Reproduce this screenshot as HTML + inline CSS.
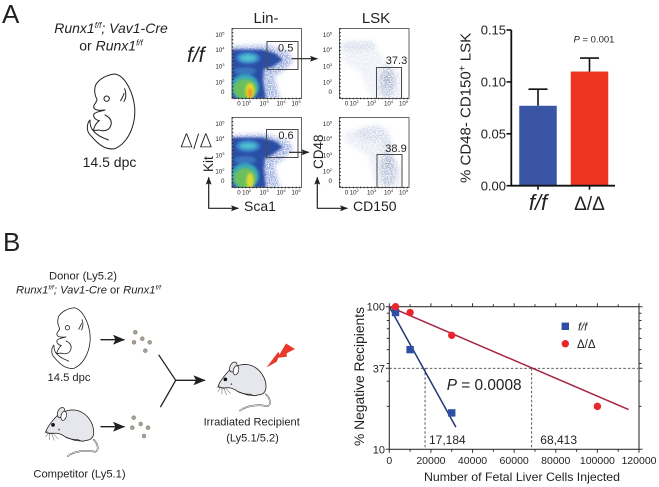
<!DOCTYPE html>
<html lang="en">
<head>
<meta charset="utf-8">
<title>Runx1 fetal liver figure</title>
<style>
html,body{margin:0;padding:0;background:#fff;width:659px;height:487px;overflow:hidden}
svg{display:block}
text{font-family:"Liberation Sans",Arial,sans-serif;fill:#231f20}
.ln{fill:none;stroke:#231f20;stroke-linecap:round;stroke-linejoin:round}
</style>
</head>
<body>
<svg id="fig" width="659" height="487" viewBox="0 0 659 487" xmlns="http://www.w3.org/2000/svg">
<defs>
  <filter id="b1" x="-30%" y="-30%" width="160%" height="160%"><feGaussianBlur stdDeviation="1.2"/></filter>
  <filter id="b2" x="-30%" y="-30%" width="160%" height="160%"><feGaussianBlur stdDeviation="2.4"/></filter>
  <filter id="speck" x="-20%" y="-20%" width="140%" height="140%">
    <feGaussianBlur stdDeviation="2.2" result="soft"/>
    <feTurbulence type="fractalNoise" baseFrequency="0.85" numOctaves="2" seed="4" result="noise"/>
    <feColorMatrix in="noise" type="matrix" values="0 0 0 0 0  0 0 0 0 0  0 0 0 0 0  0 0 0 3.4 -1.1" result="mask"/>
    <feComposite in="soft" in2="mask" operator="in"/>
  </filter>
  <clipPath id="c1"><rect x="232" y="28.5" width="69.5" height="70"/></clipPath>
  <clipPath id="c2"><rect x="339.5" y="28.5" width="69.5" height="70"/></clipPath>
  <clipPath id="c3"><rect x="232" y="117.5" width="69.5" height="70"/></clipPath>
  <clipPath id="c4"><rect x="339.5" y="117.5" width="69.5" height="70"/></clipPath>
  <marker id="ah" markerWidth="8" markerHeight="6" refX="7" refY="3" orient="auto-start-reverse" markerUnits="userSpaceOnUse"><path d="M0 0L8 3L0 6L1.5 3Z" fill="#231f20"/></marker>
  <marker id="ahb" markerWidth="12" markerHeight="10" refX="11" refY="5" orient="auto" markerUnits="userSpaceOnUse"><path d="M0 0L12 5L0 10L2.5 5Z" fill="#231f20"/></marker>
  <g id="embryo-shape" fill="none" stroke="#231f20" stroke-width="3" stroke-linecap="round" stroke-linejoin="round">
    <path d="M345 222C378 228 400 282 404 322C408 372 386 428 345 446C312 452 288 426 268 402C258 388 262 368 270 360C270 372 272 385 280 392C284 378 288 368 298 362C286 360 278 350 282 342C290 334 305 334 315 330C300 332 284 332 281 322C280 312 292 306 291 298C284 285 282 270 287 255C298 236 322 224 345 222Z"/>
    <circle cx="320" cy="296" r="8"/>
    <path d="M362 302C368 290 372 284 372 280M372 304C380 292 378 275 374 266"/>
    <path d="M315 345C330 352 338 362 332 378C328 388 318 394 305 392C295 388 285 392 280 392M280 392C292 408 312 414 325 420"/>
  </g>
  <g id="mouse-shape">
    <path d="M168 148C180 160 186 178 172 184C150 178 110 180 90 197" fill="none" stroke="#231f20" stroke-width="4.4" stroke-linecap="round"/>
    <path d="M168 148C180 160 186 178 172 184C150 178 110 180 90 197" fill="none" stroke="#fff" stroke-width="2.2" stroke-linecap="round"/>
    <path d="M24 124C30 108 46 88 62 72C80 60 105 54 125 62C150 72 168 98 168 125C168 140 160 150 142 150C135 154 128 152 122 148C108 148 95 146 84 140C76 134 66 128 52 128C42 130 30 130 24 124Z" fill="#e6e7ec" stroke="#231f20" stroke-width="2.4" stroke-linejoin="round"/>
    <ellipse cx="70" cy="66" rx="10" ry="16" transform="rotate(25 70 66)" fill="#e6e7ec" stroke="#231f20" stroke-width="2.2"/>
    <ellipse cx="78" cy="76" rx="8" ry="14" transform="rotate(15 78 76)" fill="#fff" stroke="#231f20" stroke-width="2.2"/>
    <circle cx="46" cy="103" r="5.5" fill="#111"/>
    <path d="M64 114l3 5h-6z" fill="#231f20"/>
    <path d="M30 122L20 128M32 125L24 140M36 126L36 148M40 126L50 150M44 126L62 146" stroke="#231f20" stroke-width="1.2" fill="none"/>
    <path d="M84 140L112 150L135 152" stroke="#231f20" stroke-width="2.4" fill="none"/>
  </g>
</defs>

<text x="2" y="23" font-size="26">A</text>
<text x="3" y="251" font-size="26">B</text>

<g>
  <text x="111" y="33" font-size="14" text-anchor="middle" font-style="italic">Runx1<tspan font-size="8" dy="-5">f/f</tspan><tspan dy="5">; Vav1-Cre</tspan></text>
  <text x="111" y="50.5" font-size="14" text-anchor="middle">or <tspan font-style="italic">Runx1</tspan><tspan font-size="8" dy="-5" font-style="italic">f/f</tspan></text>
</g>
<use href="#embryo-shape" transform="scale(.3333)"/>
<text x="109.5" y="167" font-size="14" text-anchor="middle">14.5 dpc</text>

<text x="266" y="23" font-size="15" text-anchor="middle">Lin-</text>
<text x="376" y="23" font-size="15" text-anchor="middle">LSK</text>
<text x="187" y="62" font-size="21" font-style="italic">f/f</text>
<text x="180" y="147" font-size="19" style="font-family:'DejaVu Sans',sans-serif;font-weight:200">Δ/Δ</text>

<!-- density plots -->
<g clip-path="url(#c1)">
  <path d="M232 46L268 45L290 53L293 62L282 72L274 76L280 98.5L232 98.5Z" fill="#8ea2dc" filter="url(#speck)"/>
  <path d="M231 49.5L262 49.5L275 53L283 60L272 67L264 69L263 80L266 99L231 99Z" fill="#2a4ea6" filter="url(#b1)"/>
  <ellipse cx="245" cy="71" rx="11" ry="4" fill="#3a74bc" filter="url(#b1)"/>
  <ellipse cx="248" cy="58" rx="12" ry="6" fill="#3a88cc" filter="url(#b1)"/>
  <ellipse cx="248" cy="58" rx="8" ry="3.5" fill="#4fc0cc" filter="url(#b1)"/>
  <ellipse cx="245" cy="87" rx="14" ry="13" fill="#38a8bc" filter="url(#b1)"/>
  <ellipse cx="245" cy="89" rx="11.5" ry="10" fill="#6cc05c" filter="url(#b1)"/>
  <ellipse cx="250" cy="91" rx="4.5" ry="8" fill="#e6d92c" filter="url(#b1)"/>
  <ellipse cx="250" cy="93" rx="2.2" ry="5" fill="#f1902a" filter="url(#b1)"/>
</g>
<g clip-path="url(#c3)">
  <path d="M232 135L268 134L290 142L293 150L282 160L274 165L280 187.5L232 187.5Z" fill="#8ea2dc" filter="url(#speck)"/>
  <path d="M231 137.5L262 137.5L275 141L283 147L272 155L265 158L264 169L266 188L231 188Z" fill="#2a4ea6" filter="url(#b1)"/>
  <ellipse cx="245" cy="160" rx="11" ry="4" fill="#3a74bc" filter="url(#b1)"/>
  <ellipse cx="248" cy="146" rx="12" ry="6" fill="#3a88cc" filter="url(#b1)"/>
  <ellipse cx="248" cy="146" rx="8" ry="3" fill="#4fc0cc" filter="url(#b1)"/>
  <ellipse cx="245" cy="176" rx="14" ry="13" fill="#38a8bc" filter="url(#b1)"/>
  <ellipse cx="245" cy="178" rx="11" ry="10" fill="#6cc05c" filter="url(#b1)"/>
  <ellipse cx="250" cy="181" rx="3.6" ry="8" fill="#dcdc38" filter="url(#b1)"/>
</g>
<g clip-path="url(#c2)">
  <g filter="url(#speck)" opacity=".55">
    <path d="M342 42L372 40L384 60L402 72L403 98L372 98L360 72L342 60Z" fill="#d4dbec"/>
    <ellipse cx="358" cy="46" rx="18" ry="5" fill="#a7b5d6"/>
    <ellipse cx="387" cy="82" rx="9" ry="16" fill="#7286b6"/>
    <ellipse cx="388" cy="79" rx="4" ry="7" fill="#3f5590"/>
  </g>
</g>
<g clip-path="url(#c4)">
  <g filter="url(#speck)" opacity=".55">
    <path d="M345 132L376 124L388 130L392 155L402 170L400 187L376 187L368 155L345 142Z" fill="#ccd4e8"/>
    <ellipse cx="372" cy="134" rx="16" ry="7" fill="#a0afd2"/>
    <ellipse cx="386" cy="146" rx="6" ry="13" fill="#a8b6d6"/>
    <ellipse cx="388" cy="170" rx="9" ry="17" fill="#7688b8"/>
    <ellipse cx="388" cy="163" rx="4.5" ry="7" fill="#4e6398"/>
  </g>
</g>
<g id="flow-frames"></g>

<g fill="none" stroke="#4a4a4a" stroke-width="1">
  <rect x="267" y="41.5" width="31" height="28"/>
  <rect x="376.5" y="67.5" width="25" height="31"/>
  <rect x="266.5" y="129.5" width="31.5" height="28"/>
  <rect x="377" y="154.5" width="25" height="33"/>
</g>
<text x="285.7" y="51.5" font-size="11" text-anchor="middle">0.5</text>
<text x="396.5" y="64" font-size="11" text-anchor="middle">37.3</text>
<text x="286" y="139" font-size="11" text-anchor="middle">0.6</text>
<text x="396" y="152" font-size="11" text-anchor="middle">38.9</text>
<path class="ln" stroke-width="1.1" d="M292 58.7H317" marker-end="url(#ah)"/>
<path class="ln" stroke-width="1.1" d="M289.5 152.3H308.5" marker-end="url(#ah)"/>

<text transform="translate(213 172) rotate(-90)" font-size="13.5">Kit</text>
<text transform="translate(323 169) rotate(-90)" font-size="13.5">CD48</text>
<text x="244" y="211" font-size="14">Sca1</text>
<text x="353" y="211" font-size="14">CD150</text>
<path class="ln" stroke-width="1.2" d="M208.7 177.7V208.3H238" marker-end="url(#ah)" marker-start="url(#ah)"/>
<path class="ln" stroke-width="1.2" d="M317.3 177.7V208.3H347" marker-end="url(#ah)" marker-start="url(#ah)"/>

<g id="bar-chart"></g>

<!-- panel B schematic -->
<g>
  <text x="83" y="279.5" font-size="11.2" text-anchor="middle">Donor (Ly5.2)</text>
  <text x="88.5" y="293.5" font-size="11.2" text-anchor="middle" font-style="italic">Runx1<tspan font-size="6.6" dy="-4">f/f</tspan><tspan dy="4">; Vav1-Cre </tspan><tspan font-style="normal">or </tspan>Runx1<tspan font-size="6.6" dy="-4">f/f</tspan></text>
</g>
<use href="#embryo-shape" transform="translate(-19 247.8) scale(.27)"/>
<text x="69" y="381" font-size="11.2" text-anchor="middle">14.5 dpc</text>
<path class="ln" stroke-width="1.3" d="M101 339.7H124" marker-end="url(#ahb)"/>
<path class="ln" stroke-width="1.3" d="M101 426.7H124" marker-end="url(#ahb)"/>
<g fill="#a8a296" stroke="#837d72" stroke-width=".6">
  <circle cx="135.3" cy="332.3" r="1.9"/><circle cx="134" cy="342.3" r="1.9"/><circle cx="142.3" cy="338.7" r="1.9"/><circle cx="149.7" cy="342.3" r="1.9"/><circle cx="145.3" cy="350.7" r="1.9"/>
</g>
<g fill="#a8a296" stroke="#837d72" stroke-width=".6">
  <circle cx="133.7" cy="417.7" r="1.9"/><circle cx="132.3" cy="427.7" r="1.9"/><circle cx="140.7" cy="424" r="1.9"/><circle cx="148" cy="427.7" r="1.9"/><circle cx="144" cy="436" r="1.9"/>
</g>
<path class="ln" stroke-width="1.3" d="M159 355.3L175.7 380.3L160.7 406.7"/>
<path class="ln" stroke-width="1.3" d="M175.7 380.3H204.5" marker-end="url(#ahb)"/>
<use href="#mouse-shape" transform="translate(210 345) scale(.3333)"/>
<use href="#mouse-shape" transform="translate(37.7 390.5) scale(.3333)"/>
<polygon fill="#e8392a" points="266.5,367.5 278.3,351.7 279.5,354.5 286,343.5 295,349 286.7,353.3 286.7,356.7 278.3,357.7 276.7,361.7"/>
<text x="251.7" y="425.7" font-size="11.1" text-anchor="middle">Irradiated Recipient</text>
<text x="252.5" y="441.7" font-size="11.1" text-anchor="middle">(Ly5.1/5.2)</text>
<text x="79.5" y="477.3" font-size="11.2" text-anchor="middle">Competitor (Ly5.1)</text>

<g id="ld-chart"></g>

<script>
// ---- bar chart data ----
const barCategories = ['f/f', 'Δ/Δ'];
const barValues = [0.077, 0.110];
const barErrorTops = [0.093, 0.123];
const barColors = ['#3a55a4', '#ee3524'];
const barTicks = [0, 0.05, 0.10, 0.15];
const barTickLabels = ['0.00', '0.05', '0.10', '0.15'];

// ---- limiting dilution data ----
const ffDoses = [3000, 10000, 30000];
const ffNegative = [91, 50, 18];
const deltaDoses = [3000, 10000, 30000, 100000];
const deltaNegative = [100, 91, 63, 20];
const ffFitDoses = [0, 32000];
const ffFitNegative = [100, 14.3];
const deltaFitDoses = [0, 115000];
const deltaFitNegative = [100, 19];
const xTickValues = [0, 20000, 40000, 60000, 80000, 100000, 120000];
const xMinorTicks = [10000, 30000, 50000, 70000, 90000, 110000];
const yTickValues = [10, 37, 100];
const yMinorTicks = [20, 30, 40, 50, 60, 70, 80, 90];
const crossing = 37;
const ffEstimate = 17184;
const deltaEstimate = 68413;

// ---- flow panel tick labels ----
const flowExponents = ['5', '4', '3', '2'];
const flowXExponents = ['2', '3', '4', '5'];

const NS = 'http://www.w3.org/2000/svg';
function mk(tag, attrs, parent) {
  const e = document.createElementNS(NS, tag);
  for (const k in attrs) e.setAttribute(k, attrs[k]);
  parent.appendChild(e);
  return e;
}

// flow panel frames and tick labels
(function () {
  const host = document.getElementById('flow-frames');
  [[232, 28.5, 'lin-ff'], [339.5, 28.5, 'lsk-ff'], [232, 117.5, 'lin-delta'], [339.5, 117.5, 'lsk-delta']].forEach(function (p) {
    const px = p[0], py = p[1];
    const fr = mk('rect', {x: px, y: py, width: 69.5, height: 70, fill: 'none', stroke: '#555', 'stroke-width': 0.9}, host);
    
    
    const tk = mk('path', {d: 'M' + (px + 0.5) + ' ' + py + 'V' + (py + 70) + 'H' + (px + 69.5), fill: 'none', stroke: '#222', 'stroke-width': 1.6, 'stroke-dasharray': '1 2.6'}, host);
    
    
    const yOff = [6.7, 21.7, 38.2, 54];
    flowExponents.forEach(function (ex, i) {
      const t = mk('text', {x: px - 7.5, y: py + yOff[i] + 2, 'font-size': 6.2, 'text-anchor': 'end'}, host);
      
      
      t.textContent = '10';
      const s = mk('tspan', {'font-size': 4, dy: -2.5}, t);
      s.textContent = ex;
    });
    const z = mk('text', {x: px - 7.5, y: py + 65.5, 'font-size': 6.2, 'text-anchor': 'end'}, host);
    
    
    z.textContent = '0';
    const xOff = [14.7, 32, 49, 64];
    const x0 = mk('text', {x: px + 7, y: py + 77, 'font-size': 6.2, 'text-anchor': 'middle'}, host);
    
    
    x0.textContent = '0';
    flowXExponents.forEach(function (ex, i) {
      const t = mk('text', {x: px + xOff[i], y: py + 77, 'font-size': 6.2, 'text-anchor': 'middle'}, host);
      
      
      t.textContent = '10';
      const s = mk('tspan', {'font-size': 4, dy: -2.5}, t);
      s.textContent = ex;
    });
  });
})();

// bar chart
(function () {
  const host = document.getElementById('bar-chart');
  const y = function (v) { return 185.7 - v / 0.15 * 155.7; };
  const centers = [538, 589.5];
  const w = 37.5;
  barValues.forEach(function (v, i) {
    const c = centers[i];
    const err = mk('path', {d: 'M' + c + ' ' + y(v) + 'V' + y(barErrorTops[i]) + 'M' + (c - 9.5) + ' ' + y(barErrorTops[i]) + 'H' + (c + 9.5), stroke: '#111', 'stroke-width': 1.6, fill: 'none'}, host);
    
    
    const r = mk('rect', {x: c - w / 2, y: y(v), width: w, height: y(0) - y(v), fill: barColors[i]}, host);
    
    
    const tk = mk('line', {x1: c, x2: c, y1: y(0), y2: y(0) + 4, stroke: '#111', 'stroke-width': 1.6}, host);
    
    
    const lb = mk('text', {x: c, y: 210, 'font-size': i === 0 ? 22 : 19, 'text-anchor': 'middle'}, host);
    
    
    if (i === 0) lb.setAttribute('font-style', 'italic');
    lb.textContent = barCategories[i];
  });
  const ax = mk('path', {d: 'M511.3 ' + y(0.15) + 'V' + y(0) + 'H615', fill: 'none', stroke: '#111', 'stroke-width': 1.8}, host);
  
  
  barTicks.forEach(function (v, i) {
    const tk = mk('line', {x1: 506.5, x2: 511.3, y1: y(v), y2: y(v), stroke: '#111', 'stroke-width': 1.6}, host);
    
    
    const lb = mk('text', {x: 506, y: y(v) + 4.7, 'font-size': 13, 'text-anchor': 'end'}, host);
    
    
    lb.textContent = barTickLabels[i];
  });
  const yt = mk('text', {transform: 'translate(470.5 183) rotate(-90)', 'font-size': 15}, host);
  
  
  yt.textContent = '% CD48- CD150';
  const sp = mk('tspan', {'font-size': 10, dy: -5}, yt);
  sp.textContent = '+';
  const sp2 = mk('tspan', {dy: 5}, yt);
  sp2.textContent = ' LSK';
  const p = mk('text', {x: 573.5, y: 42.5, 'font-size': 9.5}, host);
  
  
  const pi = mk('tspan', {'font-style': 'italic'}, p);
  pi.textContent = 'P';
  const pv = mk('tspan', {}, p);
  pv.textContent = ' = 0.001';
})();

// limiting dilution chart
(function () {
  const host = document.getElementById('ld-chart');
  const L = 389.3, R = 639, T = 306.7, B = 449.3;
  const x = function (v) { return L + v / 120000 * (R - L); };
  const y = function (v) { return B - (Math.log10(v) - 1) * (B - T); };

  const frame = mk('rect', {x: L, y: T, width: R - L, height: B - T, fill: 'none', stroke: '#333', 'stroke-width': 1.1}, host);
  
  

  xTickValues.forEach(function (v) {
    const t = mk('path', {d: 'M' + x(v) + ' ' + B + 'v3.5M' + x(v) + ' ' + T + 'v-3.5', stroke: '#333', 'stroke-width': 1}, host);
    
    
    const lb = mk('text', {x: x(v), y: 464, 'font-size': 10.5, 'text-anchor': 'middle'}, host);
    
    
    lb.textContent = String(v);
  });
  xMinorTicks.forEach(function (v) {
    const t = mk('path', {d: 'M' + x(v) + ' ' + B + 'v2.5M' + x(v) + ' ' + T + 'v-2.5', stroke: '#333', 'stroke-width': 1}, host);
    
    
  });
  yTickValues.forEach(function (v) {
    const t = mk('path', {d: 'M' + L + ' ' + y(v) + 'h-3.5M' + R + ' ' + y(v) + 'h3.5', stroke: '#333', 'stroke-width': 1}, host);
    
    
    const lb = mk('text', {x: 385, y: y(v) + 4, 'font-size': 11, 'text-anchor': 'end'}, host);
    
    
    lb.textContent = String(v);
  });
  yMinorTicks.forEach(function (v) {
    const t = mk('path', {d: 'M' + L + ' ' + y(v) + 'h-2.5M' + R + ' ' + y(v) + 'h2.5', stroke: '#333', 'stroke-width': 1}, host);
    
    
  });

  const dash = {stroke: '#444', 'stroke-width': 0.9, 'stroke-dasharray': '2.5 2', fill: 'none'};
  const h = mk('line', Object.assign({x1: L, x2: R - 1, y1: y(crossing), y2: y(crossing)}, dash), host);
  
  
  [ffEstimate, deltaEstimate].forEach(function (v) {
    const l = mk('line', Object.assign({x1: x(v), x2: x(v), y1: y(crossing), y2: B}, dash), host);
    
    
  });

  const f1 = mk('line', {x1: x(ffFitDoses[0]), y1: y(ffFitNegative[0]), x2: x(ffFitDoses[1]), y2: y(ffFitNegative[1]), stroke: '#1f3a73', 'stroke-width': 1.5}, host);
  
  
  const f2 = mk('line', {x1: x(deltaFitDoses[0]), y1: y(deltaFitNegative[0]), x2: x(deltaFitDoses[1]), y2: y(deltaFitNegative[1]), stroke: '#a8243f', 'stroke-width': 1.5}, host);
  
  

  ffDoses.forEach(function (d, i) {
    const s = mk('rect', {x: x(d) - 3.7, y: y(ffNegative[i]) - 3.7, width: 7.4, height: 7.4, fill: '#2f4fa6'}, host);
    
    
  });
  deltaDoses.forEach(function (d, i) {
    const c = mk('circle', {cx: x(d), cy: y(deltaNegative[i]), r: 3.7, fill: '#e8262c'}, host);
    
    
  });

  const ls = mk('rect', {x: 561.6, y: 322.6, width: 7.4, height: 7.4, fill: '#2f4fa6'}, host);
  
  
  const lt = mk('text', {x: 578, y: 330.5, 'font-size': 11, 'font-style': 'italic'}, host);
  
  
  lt.textContent = 'f/f';
  const lc = mk('circle', {cx: 565.3, cy: 343.7, r: 3.7, fill: '#e8262c'}, host);
  
  
  const ld = mk('text', {x: 577, y: 348, 'font-size': 11.5}, host);
  
  
  ld.textContent = 'Δ/Δ';

  const pt = mk('text', {x: 446.7, y: 390, 'font-size': 15.4}, host);
  
  
  const pi = mk('tspan', {'font-style': 'italic'}, pt);
  pi.textContent = 'P';
  const pr = mk('tspan', {}, pt);
  pr.textContent = ' = 0.0008';

  const e1 = mk('text', {x: 429, y: 444, 'font-size': 12}, host);
  
  
  e1.textContent = ffEstimate.toLocaleString('en-US');
  const e2 = mk('text', {x: 540.3, y: 444, 'font-size': 12}, host);
  
  
  e2.textContent = deltaEstimate.toLocaleString('en-US');

  const yt = mk('text', {transform: 'translate(364 446) rotate(-90)', 'font-size': 14, textLength: 139, lengthAdjust: 'spacingAndGlyphs'}, host);
  
  
  yt.textContent = '% Negative Recipients';
  const xt = mk('text', {x: 424, y: 481, 'font-size': 12, textLength: 196, lengthAdjust: 'spacingAndGlyphs'}, host);
  
  
  xt.textContent = 'Number of Fetal Liver Cells Injected';
})();
</script>
</svg>
</body>
</html>
